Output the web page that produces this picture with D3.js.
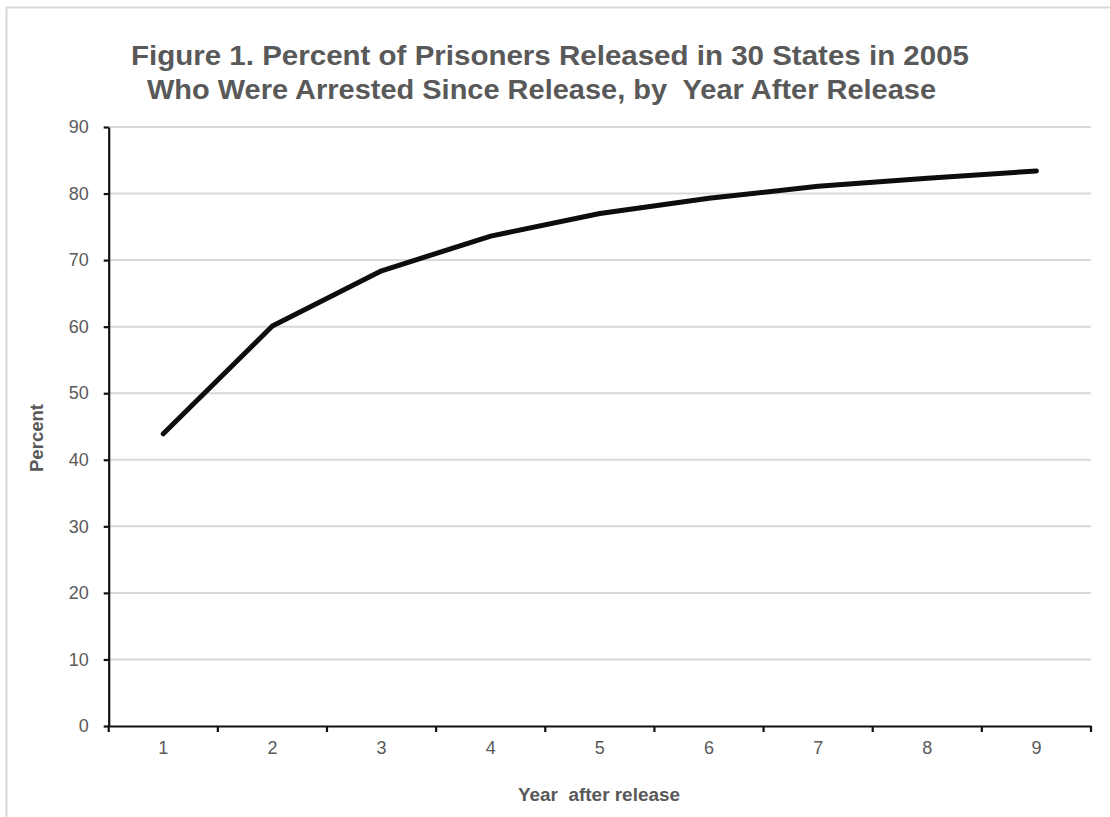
<!DOCTYPE html>
<html>
<head>
<meta charset="utf-8">
<script src="https://cdn.jsdelivr.net/npm/d3@7"></script>
<style>
  html, body { margin: 0; padding: 0; background: #fff; }
  text { font-family: Arial, "Liberation Sans", sans-serif; }
</style>
</head>
<body>
<svg id="chart" width="1110" height="817"></svg>
<script>
const titleLines = [
  "Figure 1. Percent of Prisoners Released in 30 States in 2005",
  "Who Were Arrested Since Release, by  Year After Release"
];
const years = ["1", "2", "3", "4", "5", "6", "7", "8", "9"];
const percents = [43.9, 60.1, 68.4, 73.6, 77.0, 79.3, 81.1, 82.3, 83.4];
const yTicks = [0, 10, 20, 30, 40, 50, 60, 70, 80, 90];
const xTitle = "Year  after release";
const yTitle = "Percent";

(function () {
const svg = d3.select("#chart");
const grey = "#595959";

// outer frame
svg.append("rect")
  .attr("x", 6.5).attr("y", 7.5)
  .attr("width", 1120).attr("height", 830)
  .attr("fill", "none").attr("stroke", "#d9d9d9").attr("stroke-width", 2);

const pLeft = 108.7, pRight = 1091, pTop = 127, pBottom = 726;

const x = d3.scaleBand().domain(years).range([pLeft, pRight]).padding(0);
const y = d3.scaleLinear().domain([0, 90]).range([pBottom, pTop]);

// gridlines
svg.append("g")
  .selectAll("line")
  .data(yTicks.filter(d => d > 0))
  .join("line")
  .attr("x1", pLeft).attr("x2", pRight)
  .attr("y1", d => y(d)).attr("y2", d => y(d))
  .attr("stroke", "#d9d9d9").attr("stroke-width", 2);

// y axis
const yAxis = svg.append("g")
  .attr("transform", `translate(${pLeft},0)`)
  .call(d3.axisLeft(y).tickValues(yTicks).tickSize(5).tickPadding(15).tickSizeOuter(0));
yAxis.select(".domain").attr("stroke", "#111").attr("stroke-width", 2.2);
yAxis.selectAll(".tick line").attr("stroke", "#111").attr("stroke-width", 2.2);
yAxis.selectAll(".tick text")
  .attr("fill", grey).style("font-size", "18px");

// x axis
const xAxis = svg.append("g")
  .attr("transform", `translate(0,${pBottom})`)
  .call(d3.axisBottom(x).tickSize(0).tickPadding(15).tickSizeOuter(0));
xAxis.select(".domain").attr("stroke", "#111").attr("stroke-width", 2.2);
xAxis.selectAll(".tick text").attr("fill", grey).style("font-size", "18px");
// boundary ticks between categories
const bounds = years.map(d => x(d)).concat([x(years[years.length - 1]) + x.bandwidth()]);
svg.append("g").selectAll("line").data(bounds).join("line")
  .attr("x1", d => d).attr("x2", d => d)
  .attr("y1", pBottom).attr("y2", pBottom + 6)
  .attr("stroke", "#111").attr("stroke-width", 2.2);

// data line
const line = d3.line()
  .x((d, i) => x(years[i]) + x.bandwidth() / 2)
  .y(d => y(d));
svg.append("path")
  .datum(percents)
  .attr("d", line)
  .attr("fill", "none")
  .attr("stroke", "#0d0d0d")
  .attr("stroke-width", 5)
  .attr("stroke-linecap", "round")
  .attr("stroke-linejoin", "round");

// titles
const titleWidths = [838, 789];
const titleX = [550, 541.5];
const titleY = [65, 99];
titleLines.forEach((t, i) => {
  svg.append("text")
    .attr("x", titleX[i]).attr("y", titleY[i])
    .attr("text-anchor", "middle")
    .attr("fill", grey)
    .style("font-size", "28px").style("font-weight", "bold")
    .style("white-space", "pre")
    .attr("textLength", titleWidths[i])
    .attr("lengthAdjust", "spacingAndGlyphs")
    .text(t);
});

svg.append("text")
  .attr("x", 599).attr("y", 801)
  .attr("text-anchor", "middle")
  .attr("fill", grey)
  .style("font-size", "18px").style("font-weight", "bold")
  .style("white-space", "pre")
  .attr("textLength", 162)
  .attr("lengthAdjust", "spacingAndGlyphs")
  .text(xTitle);

svg.append("text")
  .attr("transform", "translate(43,438) rotate(-90)")
  .attr("text-anchor", "middle")
  .attr("fill", grey)
  .style("font-size", "18px").style("font-weight", "bold")
  .attr("textLength", 68)
  .attr("lengthAdjust", "spacingAndGlyphs")
  .text(yTitle);
})();
</script>
</body>
</html>
